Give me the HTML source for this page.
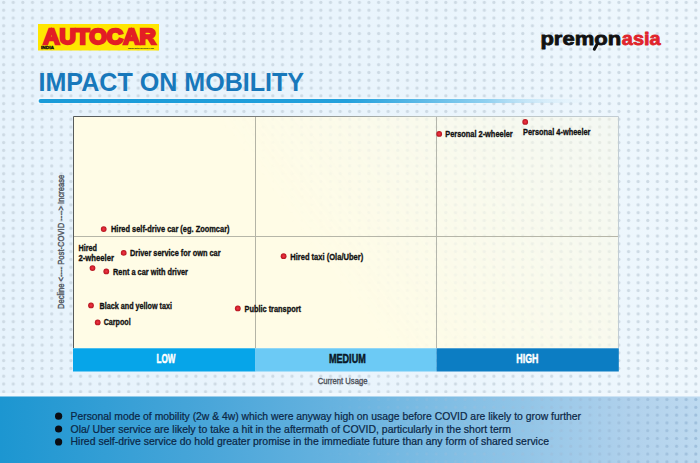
<!DOCTYPE html>
<html>
<head>
<meta charset="utf-8">
<title>Impact on Mobility</title>
<style>
html,body{margin:0;padding:0;background:#e9f4fc;}
body{width:700px;height:463px;overflow:hidden;}
svg{display:block;}
text{font-family:"Liberation Sans",sans-serif;}
.lbl{font-weight:bold;font-size:9.7px;fill:#111;stroke:#111;stroke-width:0.35px;}
.foot{font-size:11px;fill:#0b2746;stroke:#0b2746;stroke-width:0.22px;}
</style>
</head>
<body>
<svg width="700" height="463" viewBox="0 0 700 463">
<defs>
<pattern id="dots" x="0" y="0" width="9.614" height="7.787" patternUnits="userSpaceOnUse">
<circle cx="3.63" cy="2.4" r="1.65" fill="#cddae4"/>
</pattern>
<pattern id="dotsw" x="0" y="0" width="9.614" height="7.787" patternUnits="userSpaceOnUse">
<circle cx="3.63" cy="2.4" r="1.6" fill="#e4e9e2"/>
</pattern>
<pattern id="dotsf" x="0" y="0" width="9.614" height="7.787" patternUnits="userSpaceOnUse">
<circle cx="3.63" cy="2.4" r="1.6" fill="#9dbedb"/>
</pattern>
<linearGradient id="bgg" x1="0" x2="1" y1="0" y2="0">
<stop offset="0" stop-color="#e7f3fc"/>
<stop offset="0.5" stop-color="#e9f4fc"/>
<stop offset="1" stop-color="#eef7fd"/>
</linearGradient>
<linearGradient id="ul" x1="0" x2="1" y1="0" y2="0">
<stop offset="0" stop-color="#1a9bd8"/>
<stop offset="0.55" stop-color="#22a0dc"/>
<stop offset="0.8" stop-color="#8fd0f0"/>
<stop offset="1" stop-color="#e9f4fc" stop-opacity="0"/>
</linearGradient>
<linearGradient id="bd" gradientUnits="userSpaceOnUse" x1="73" x2="619" y1="0" y2="0">
<stop offset="0" stop-color="#555a5a"/>
<stop offset="0.33" stop-color="#7a7d7a"/>
<stop offset="0.66" stop-color="#bac2c0"/>
<stop offset="1" stop-color="#c2cdd4"/>
</linearGradient>
<radialGradient id="pt" cx="0.5" cy="0.5" r="0.5">
<stop offset="0" stop-color="#ee3b4a"/>
<stop offset="0.45" stop-color="#dc2633"/>
<stop offset="1" stop-color="#b0141e"/>
</radialGradient>
<linearGradient id="cream" x1="0" x2="1" y1="0" y2="0">
<stop offset="0" stop-color="#fffce5"/>
<stop offset="0.6" stop-color="#fffce8"/>
<stop offset="1" stop-color="#fafbf1"/>
</linearGradient>
<linearGradient id="fg" x1="0" x2="1" y1="0" y2="0">
<stop offset="0" stop-color="#1c96d1"/>
<stop offset="0.3" stop-color="#4aa6d9"/>
<stop offset="0.5" stop-color="#6ab4e0"/>
<stop offset="0.75" stop-color="#92c5e7"/>
<stop offset="0.9" stop-color="#b0d1ec"/>
<stop offset="1" stop-color="#bedaf0"/>
</linearGradient>
<linearGradient id="fade" x1="0" x2="1" y1="0" y2="0">
<stop offset="0" stop-color="#fff" stop-opacity="0"/>
<stop offset="0.45" stop-color="#fff" stop-opacity="0"/>
<stop offset="1" stop-color="#fff" stop-opacity="1"/>
</linearGradient>
<mask id="fm"><rect x="0" y="396" width="700" height="67" fill="url(#fade)"/></mask>
<linearGradient id="cfade" gradientUnits="userSpaceOnUse" x1="300" y1="330" x2="600" y2="110">
<stop offset="0" stop-color="#fff" stop-opacity="0"/>
<stop offset="0.15" stop-color="#fff" stop-opacity="0"/>
<stop offset="1" stop-color="#fff" stop-opacity="1"/>
</linearGradient>
<mask id="cm"><rect x="73" y="116" width="546" height="232" fill="url(#cfade)"/></mask>
</defs>

<!-- background -->
<rect width="700" height="463" fill="url(#bgg)"/>
<rect width="700" height="396" fill="url(#dots)"/>

<!-- AUTOCAR logo -->
<rect x="38" y="24" width="121" height="26.5" fill="#ffe600"/>
<text x="43.2" y="44.1" font-size="21.6" font-weight="bold" fill="#e31e24" stroke="#e31e24" stroke-width="2.3" stroke-linejoin="miter" textLength="112.6" lengthAdjust="spacingAndGlyphs">AUTOCAR</text>
<text x="41" y="49.4" font-size="3.6" font-weight="bold" fill="#111" stroke="#111" stroke-width="0.3" textLength="13" lengthAdjust="spacingAndGlyphs">INDIA</text>
<text x="128" y="48.6" font-size="2.4" font-weight="bold" fill="#222" textLength="26" lengthAdjust="spacingAndGlyphs">www.autocarindia.com</text>

<!-- premonasia logo -->
<text x="540.4" y="45" font-size="19" font-weight="bold" fill="#111" stroke="#111" stroke-width="0.8" stroke-linejoin="round" textLength="80.8" lengthAdjust="spacingAndGlyphs">premon</text>
<text x="621.8" y="45" font-size="19" font-weight="bold" fill="#e0242b" stroke="#e0242b" stroke-width="0.8" stroke-linejoin="round" textLength="38.8" lengthAdjust="spacingAndGlyphs">asia</text>
<line x1="597.2" y1="44" x2="594.3" y2="49.2" stroke="#111" stroke-width="3" stroke-linecap="round"/>

<!-- title -->
<text x="38.5" y="91" font-size="26.5" font-weight="bold" fill="#1878bb" textLength="265.6" lengthAdjust="spacingAndGlyphs">IMPACT ON MOBILITY</text>
<rect x="37.2" y="97.600" width="450" height="6.800" rx="3.4" fill="#f2faff" opacity="0.75"/>
<rect x="38.600" y="99" width="560" height="4" rx="2" fill="url(#ul)"/>

<!-- chart -->
<rect x="73" y="116" width="545.5" height="232" fill="#fffce6"/>
<rect x="73" y="116" width="545.5" height="232" fill="#f1f7f6" opacity="0.8" mask="url(#cm)"/>
<rect x="73" y="116" width="545.5" height="232" fill="url(#dotsw)" mask="url(#cm)"/>
<rect x="73" y="348.3" width="182.5" height="23.2" fill="#06a5e9"/>
<rect x="255.500" y="348.3" width="181" height="23.2" fill="#6ccaf5"/>
<rect x="436.500" y="348.3" width="182.3" height="23.2" fill="#0c7dc3"/>
<line x1="255.500" y1="116" x2="255.500" y2="348" stroke="#b4b4a6" stroke-width="1"/>
<line x1="436.500" y1="116" x2="436.500" y2="348" stroke="#b4b6ac" stroke-width="1"/>
<line x1="73" y1="236.500" x2="618.5" y2="236.500" stroke="#b6b6a8" stroke-width="1"/>
<path d="M73.500 348 V116.500 H618.500 V348" fill="none" stroke="url(#bd)" stroke-width="1"/>

<!-- band labels -->
<text x="156.5" y="363.1" font-size="12.8" font-weight="bold" fill="#fff" stroke="#fff" stroke-width="0.5" textLength="18.9" lengthAdjust="spacingAndGlyphs">LOW</text>
<text x="328.9" y="363.1" font-size="12.8" font-weight="bold" fill="#0a1828" stroke="#0a1828" stroke-width="0.5" textLength="36.9" lengthAdjust="spacingAndGlyphs">MEDIUM</text>
<text x="516.3" y="363.1" font-size="12.8" font-weight="bold" fill="#fff" stroke="#fff" stroke-width="0.5" textLength="22.1" lengthAdjust="spacingAndGlyphs">HIGH</text>
<text x="317.8" y="383.8" font-size="9.3" fill="#50555e" stroke="#50555e" stroke-width="0.4" textLength="49.6" lengthAdjust="spacingAndGlyphs">Current Usage</text>
<text transform="translate(63.700,309) rotate(-90)" font-size="9.3" fill="#50555e" stroke="#50555e" stroke-width="0.4" textLength="134.3" lengthAdjust="spacingAndGlyphs">Decline &lt;---- Post-COVID ----&gt; Increase</text>

<!-- points -->
<g fill="url(#pt)">
<circle cx="439.200" cy="133.9" r="2.9"/>
<circle cx="525.200" cy="121.9" r="2.9"/>
<circle cx="103.700" cy="229.1" r="2.9"/>
<circle cx="92.5" cy="268.1" r="2.9"/>
<circle cx="123.700" cy="252.9" r="2.9"/>
<circle cx="106.300" cy="271.4" r="2.9"/>
<circle cx="91" cy="305.4" r="2.9"/>
<circle cx="97.700" cy="322.4" r="2.9"/>
<circle cx="237.800" cy="308.4" r="2.9"/>
<circle cx="283.600" cy="256.2" r="2.9"/>
</g>

<!-- labels -->
<text class="lbl" x="445.200" y="136.9" textLength="67.500" lengthAdjust="spacingAndGlyphs">Personal 2-wheeler</text>
<text class="lbl" x="523" y="135.3" textLength="67.500" lengthAdjust="spacingAndGlyphs">Personal 4-wheeler</text>
<text class="lbl" x="111" y="231.5" textLength="118.500" lengthAdjust="spacingAndGlyphs">Hired self-drive car (eg. Zoomcar)</text>
<text class="lbl" x="78.500" y="251.0" textLength="18.500" lengthAdjust="spacingAndGlyphs">Hired</text>
<text class="lbl" x="78.500" y="261.0" textLength="35.500" lengthAdjust="spacingAndGlyphs">2-wheeler</text>
<text class="lbl" x="130" y="256.0" textLength="90.500" lengthAdjust="spacingAndGlyphs">Driver service for own car</text>
<text class="lbl" x="113" y="274.5" textLength="75" lengthAdjust="spacingAndGlyphs">Rent a car with driver</text>
<text class="lbl" x="99.500" y="308.9" textLength="72.500" lengthAdjust="spacingAndGlyphs">Black and yellow taxi</text>
<text class="lbl" x="103.700" y="325.3" textLength="27" lengthAdjust="spacingAndGlyphs">Carpool</text>
<text class="lbl" x="244.500" y="311.6" textLength="56.500" lengthAdjust="spacingAndGlyphs">Public transport</text>
<text class="lbl" x="290.200" y="259.7" textLength="73" lengthAdjust="spacingAndGlyphs">Hired taxi (Ola/Uber)</text>

<!-- footer -->
<rect x="0" y="393" width="700" height="3.5" fill="#f1f8fd"/>
<rect x="0" y="396.500" width="700" height="66.500" fill="url(#fg)"/>
<rect x="0" y="396.500" width="700" height="66.500" fill="url(#dotsf)" mask="url(#fm)"/>
<g fill="#0a0d14">
<circle cx="58.600" cy="416.200" r="3.6"/>
<circle cx="58.600" cy="429" r="3.6"/>
<circle cx="58.600" cy="441.900" r="3.6"/>
</g>
<text class="foot" x="70.500" y="419.600" textLength="510.500" lengthAdjust="spacingAndGlyphs">Personal mode of mobility (2w &amp; 4w) which were anyway high on usage before COVID are likely to grow further</text>
<text class="foot" x="70.500" y="432.800" textLength="440.500" lengthAdjust="spacingAndGlyphs">Ola/ Uber service are likely to take a hit in the aftermath of COVID, particularly in the short term</text>
<text class="foot" x="70.500" y="445.400" textLength="478.500" lengthAdjust="spacingAndGlyphs">Hired self-drive service do hold greater promise in the immediate future than any form of shared service</text>
</svg>
</body>
</html>
